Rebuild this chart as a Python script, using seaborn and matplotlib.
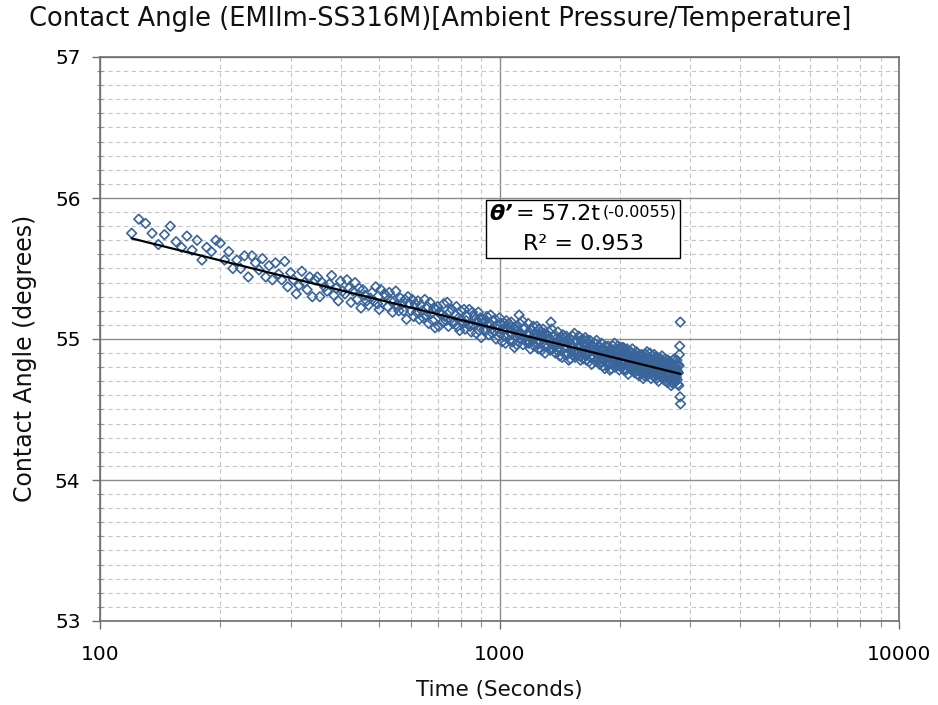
import numpy as np
import pandas as pd
import matplotlib
matplotlib.use("Agg")
import matplotlib.pyplot as plt
import seaborn as sns
from matplotlib.offsetbox import TextArea, HPacker, VPacker, AnchoredOffsetbox
from matplotlib.ticker import FixedLocator, NullFormatter, LogLocator

# Readings were logged every 5 s from 120 s to 2840 s
t_start, t_stop, t_step = 120, 2840, 5

contact_angle = [
    55.75, 55.85, 55.82, 55.75, 55.67, 55.74, 55.80, 55.69, 55.65, 55.73,
    55.63, 55.70, 55.56, 55.65, 55.62, 55.70, 55.68, 55.56, 55.62, 55.50,
    55.56, 55.50, 55.59, 55.44, 55.59, 55.54, 55.49, 55.57, 55.44, 55.52,
    55.42, 55.54, 55.46, 55.42, 55.55, 55.37, 55.47, 55.42, 55.32, 55.38,
    55.48, 55.40, 55.35, 55.44, 55.30, 55.42, 55.44, 55.30, 55.40, 55.37,
    55.34, 55.39, 55.45, 55.31, 55.36, 55.27, 55.41, 55.34, 55.32, 55.42,
    55.36, 55.26, 55.34, 55.40, 55.28, 55.36, 55.22, 55.35, 55.31, 55.27,
    55.24, 55.29, 55.33, 55.27, 55.37, 55.25, 55.21, 55.35, 55.26, 55.32,
    55.31, 55.23, 55.33, 55.27, 55.19, 55.27, 55.34, 55.24, 55.20, 55.29,
    55.25, 55.20, 55.28, 55.14, 55.30, 55.25, 55.20, 55.28, 55.16, 55.25,
    55.19, 55.27, 55.14, 55.24, 55.20, 55.15, 55.28, 55.17, 55.23, 55.11,
    55.26, 55.18, 55.13, 55.22, 55.08, 55.21, 55.23, 55.09, 55.19, 55.17,
    55.12, 55.25, 55.16, 55.13, 55.26, 55.09, 55.19, 55.14, 55.21, 55.11,
    55.12, 55.17, 55.23, 55.09, 55.15, 55.06, 55.20, 55.13, 55.11, 55.21,
    55.07, 55.13, 55.16, 55.10, 55.21, 55.09, 55.05, 55.19, 55.10, 55.16,
    55.14, 55.04, 55.13, 55.19, 55.06, 55.15, 55.01, 55.14, 55.11, 55.07,
    55.13, 55.06, 55.16, 55.10, 55.03, 55.11, 55.17, 55.07, 55.04, 55.13,
    55.06, 55.14, 55.00, 55.10, 55.07, 55.02, 55.15, 55.04, 55.11, 54.98,
    55.07, 55.02, 55.11, 54.97, 55.13, 55.07, 55.03, 55.11, 54.99, 55.08,
    55.12, 55.04, 54.98, 55.08, 54.94, 55.07, 55.09, 54.96, 55.06, 55.03,
    55.17, 55.11, 55.03, 55.00, 55.13, 54.96, 55.07, 55.01, 55.08, 54.98,
    54.99, 55.04, 55.11, 54.97, 55.03, 54.93, 55.07, 55.01, 54.99, 55.09,
    54.95, 55.01, 55.04, 54.98, 55.09, 54.97, 54.93, 55.07, 54.99, 55.05,
    55.03, 54.92, 55.01, 55.07, 54.95, 55.04, 54.90, 55.03, 55.00, 54.96,
    55.02, 54.95, 55.05, 54.99, 54.92, 55.12, 55.07, 54.97, 54.93, 55.02,
    54.95, 55.03, 54.90, 55.00, 54.97, 54.92, 55.05, 54.94, 55.00, 54.88,
    54.97, 54.92, 55.01, 54.87, 55.03, 54.98, 54.94, 55.01, 54.89, 54.98,
    55.02, 54.94, 54.89, 54.99, 54.85, 54.98, 55.00, 54.86, 54.96, 54.94,
    54.89, 55.02, 54.94, 54.91, 55.04, 54.87, 54.98, 54.92, 54.99, 54.89,
    54.90, 54.95, 55.02, 54.88, 54.94, 54.85, 54.99, 54.92, 54.90, 55.00,
    54.86, 54.92, 54.96, 54.90, 55.01, 54.89, 54.85, 54.99, 54.91, 54.96,
    54.94, 54.84, 54.93, 54.99, 54.87, 54.96, 54.82, 54.95, 54.92, 54.88,
    54.94, 54.87, 54.97, 54.91, 54.84, 54.92, 54.99, 54.89, 54.86, 54.95,
    54.88, 54.95, 54.82, 54.92, 54.89, 54.84, 54.97, 54.86, 54.93, 54.81,
    54.89, 54.85, 54.93, 54.79, 54.95, 54.90, 54.86, 54.94, 54.82, 54.91,
    54.95, 54.87, 54.82, 54.92, 54.78, 54.90, 54.92, 54.79, 54.89, 54.87,
    54.82, 54.95, 54.87, 54.84, 54.97, 54.80, 54.91, 54.86, 54.92, 54.82,
    54.83, 54.88, 54.95, 54.81, 54.87, 54.78, 54.92, 54.86, 54.84, 54.94,
    54.80, 54.85, 54.89, 54.83, 54.94, 54.82, 54.78, 54.92, 54.84, 54.90,
    54.88, 54.78, 54.87, 54.93, 54.81, 54.89, 54.75, 54.88, 54.85, 54.81,
    54.88, 54.81, 54.91, 54.85, 54.78, 54.86, 54.93, 54.83, 54.80, 54.88,
    54.81, 54.89, 54.76, 54.86, 54.83, 54.78, 54.91, 54.80, 54.87, 54.75,
    54.84, 54.79, 54.88, 54.74, 54.89, 54.84, 54.80, 54.88, 54.76, 54.85,
    54.89, 54.81, 54.76, 54.86, 54.72, 54.85, 54.87, 54.74, 54.84, 54.81,
    54.76, 54.89, 54.81, 54.78, 54.91, 54.74, 54.85, 54.80, 54.87, 54.77,
    54.78, 54.83, 54.90, 54.76, 54.81, 54.72, 54.86, 54.80, 54.78, 54.88,
    54.74, 54.80, 54.84, 54.78, 54.89, 54.77, 54.73, 54.87, 54.79, 54.85,
    54.83, 54.72, 54.81, 54.87, 54.75, 54.84, 54.70, 54.83, 54.80, 54.76,
    54.83, 54.76, 54.86, 54.80, 54.73, 54.81, 54.88, 54.78, 54.74, 54.83,
    54.76, 54.84, 54.71, 54.81, 54.78, 54.73, 54.86, 54.75, 54.82, 54.70,
    54.79, 54.74, 54.83, 54.69, 54.85, 54.79, 54.75, 54.83, 54.71, 54.80,
    54.84, 54.76, 54.71, 54.81, 54.67, 54.80, 54.82, 54.69, 54.79, 54.77,
    54.72, 54.85, 54.76, 54.73, 54.86, 54.69, 54.80, 54.75, 54.82, 54.72,
    54.73, 54.78, 54.85, 54.71, 54.77, 54.68, 54.82, 54.76, 54.67, 54.81,
    54.89, 54.95, 54.59, 55.12, 54.54,
]

# Power-law trend: theta' = a * t^b
fit_coef = 57.2
fit_exp = -0.0055
fit_r2 = 0.953

x_ticks = [100, 1000, 10000]
x_tick_labels = ["100", "1000", "10000"]
y_ticks = [53, 54, 55, 56, 57]

title = "Contact Angle (EMIIm-SS316M)[Ambient Pressure/Temperature]"
x_title = "Time (Seconds)"
y_title = "Contact Angle (degrees)"

time_s = np.arange(t_start, t_stop + t_step, t_step)
df = pd.DataFrame({"time": time_s, "angle": contact_angle})

t_fit = np.geomspace(t_start, t_stop, 200)
fit_df = pd.DataFrame({"time": t_fit, "angle": fit_coef * t_fit ** fit_exp})

sns.set_theme(style="white")
plt.rcParams["font.family"] = ["DejaVu Sans"]

W, H = 938, 705
fig = plt.figure(figsize=(W / 100, H / 100), dpi=100)
fig.patch.set_facecolor("white")
ax = fig.add_axes([100 / W, 1 - 621 / H, 799 / W, 564 / H])

marker_blue = "#3a659b"
sns.scatterplot(data=df, x="time", y="angle", ax=ax, marker="D", s=24,
                facecolor="none", edgecolor=marker_blue, color=marker_blue,
                linewidth=1.2, zorder=3, legend=False)
sns.lineplot(data=fit_df, x="time", y="angle", ax=ax, color="black",
             linewidth=1.6, zorder=4, legend=False)

ax.set_xscale("log")
ax.set_xlim(100, 10000)
ax.set_ylim(53, 57)
ax.xaxis.set_major_locator(FixedLocator(x_ticks))
ax.set_xticklabels(x_tick_labels)
ax.xaxis.set_minor_locator(LogLocator(base=10, subs=np.arange(2, 10)))
ax.xaxis.set_minor_formatter(NullFormatter())
ax.set_yticks(y_ticks)
ax.set_yticklabels([str(v) for v in y_ticks])
ax.yaxis.set_minor_locator(FixedLocator(np.arange(53.1, 57, 0.1)))

ax.set_axisbelow(True)
ax.grid(True, which="major", color="#8c8c8c", linewidth=1.0, linestyle="-")
ax.grid(True, which="minor", color="#c6c6c6", linewidth=0.8,
        linestyle=(0, (4, 3)))

for sp in ax.spines.values():
    sp.set_visible(True)
    sp.set_color("#6e6e6e")
    sp.set_linewidth(1.2)

ax.tick_params(axis="x", which="major", bottom=True, direction="out",
               length=6, width=1, color="#6e6e6e", pad=11, labelsize=14.5,
               labelcolor="black")
ax.tick_params(axis="x", which="minor", bottom=True, direction="out",
               length=4, width=0.8, color="#8c8c8c")
ax.tick_params(axis="y", which="major", left=True, direction="out",
               length=6, width=1, color="#6e6e6e", pad=8, labelsize=14.5,
               labelcolor="black")
ax.tick_params(axis="y", which="minor", left=True, direction="inout",
               length=5, width=0.8, color="#8c8c8c")

ax.set_xlabel(x_title, fontsize=15.5, color="#111111")
ax.set_ylabel(y_title, fontsize=17, color="#111111")
ax.xaxis.label.set_va("center")
ax.yaxis.label.set_va("center")
ax.xaxis.set_label_coords(0.5, (621 - 690) / 564)
ax.yaxis.set_label_coords((25 - 100) / 799, (621 - 358) / 564)

fig.text(440 / W, 1 - 19 / H, title, ha="center", va="center",
         fontsize=18.5, color="#111111")

# Trend-line equation box
big = dict(fontsize=16, color="black")
theta = TextArea("\u03b8\u2019", textprops=dict(fontsize=16, color="black",
                                              fontweight="bold",
                                              fontstyle="italic"))
eq = TextArea(f"= {fit_coef:g}t", textprops=big)
sup = TextArea(f"({fit_exp:g})", textprops=dict(fontsize=11.5, color="black"))
line1 = HPacker(children=[theta, eq, sup], align="top", pad=0, sep=2)
line2 = TextArea(f"R\u00b2 = {fit_r2:.3f}", textprops=big)
box = VPacker(children=[line1, line2], align="center", pad=0, sep=7)
anch = AnchoredOffsetbox(loc="center", child=box, pad=0.25, borderpad=0,
                         frameon=True,
                         bbox_to_anchor=((583 - 100) / 799, (621 - 229) / 564),
                         bbox_transform=ax.transAxes)
anch.patch.set_edgecolor("black")
anch.patch.set_linewidth(1.0)
anch.patch.set_facecolor("white")
anch.set_zorder(6)
ax.add_artist(anch)

fig.savefig("out.png", dpi=100, facecolor="white")
